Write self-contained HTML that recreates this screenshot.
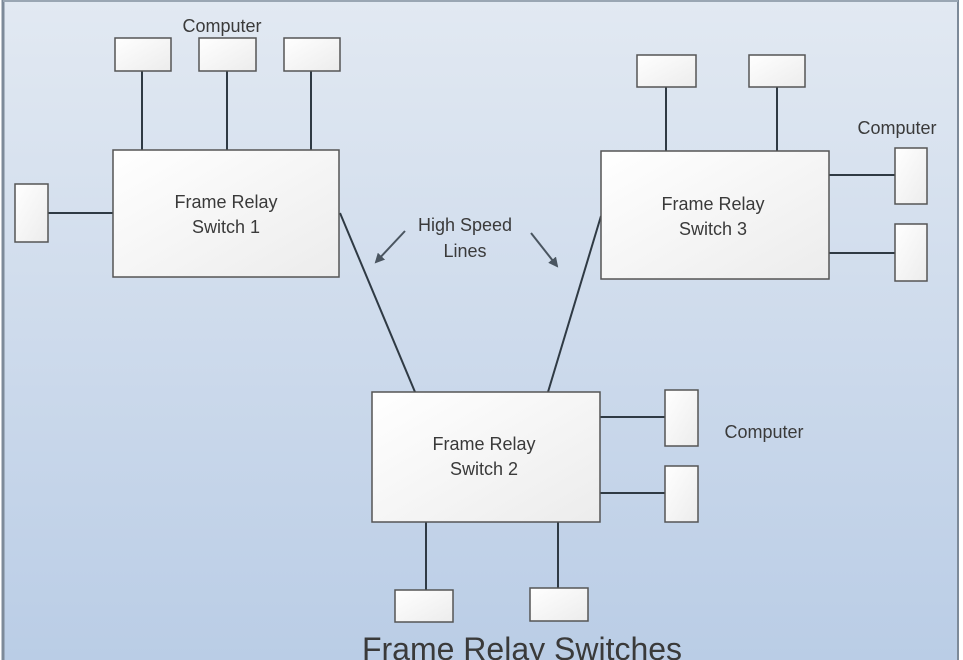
<!DOCTYPE html>
<html><head><style>
html,body{margin:0;padding:0;background:#fff;}
svg{display:block;}
text{font-family:"Liberation Sans",sans-serif;fill:#3a3a3a;}
</style></head><body>
<svg width="963" height="660" viewBox="0 0 963 660" xmlns="http://www.w3.org/2000/svg">
<defs>
<linearGradient id="bg" x1="0" y1="0" x2="0" y2="1">
<stop offset="0" stop-color="#e2e9f2"/>
<stop offset="1" stop-color="#bacde6"/>
</linearGradient>
<linearGradient id="bx" x1="0" y1="0" x2="1" y2="1">
<stop offset="0" stop-color="#ffffff"/>
<stop offset="1" stop-color="#ececec"/>
</linearGradient>
<marker id="ah" markerWidth="10" markerHeight="10" refX="8" refY="5" orient="auto" markerUnits="userSpaceOnUse">
<path d="M0,0 L10,5 L0,10 z" fill="#4a5560"/>
</marker>
</defs>
<rect x="0" y="0" width="963" height="660" fill="#fff"/>
<rect x="3" y="0" width="955" height="660" fill="url(#bg)"/>
<line x1="3" y1="0" x2="3" y2="660" stroke="#7d8a99" stroke-width="3"/>
<line x1="958" y1="0" x2="958" y2="660" stroke="#7d8a99" stroke-width="2"/>
<line x1="3" y1="1" x2="958" y2="1" stroke="#9aa6b3" stroke-width="2"/>
<g stroke="#2f3a44" stroke-width="2" fill="none">
<line x1="142" y1="71" x2="142" y2="150"/>
<line x1="227" y1="71" x2="227" y2="150"/>
<line x1="311" y1="71" x2="311" y2="150"/>
<line x1="48" y1="213" x2="113" y2="213"/>
<line x1="666" y1="87" x2="666" y2="151"/>
<line x1="777" y1="87" x2="777" y2="151"/>
<line x1="829" y1="175" x2="895" y2="175"/>
<line x1="829" y1="253" x2="895" y2="253"/>
<line x1="600" y1="417" x2="665" y2="417"/>
<line x1="600" y1="493" x2="665" y2="493"/>
<line x1="426" y1="522" x2="426" y2="590"/>
<line x1="558" y1="522" x2="558" y2="588"/>
<line x1="340" y1="213" x2="415" y2="392"/>
<line x1="601" y1="216" x2="548" y2="392"/>
</g>
<g stroke="#4a5560" stroke-width="2">
<line x1="405" y1="231" x2="376" y2="262" marker-end="url(#ah)"/>
<line x1="531" y1="233" x2="557" y2="266" marker-end="url(#ah)"/>
</g>
<g fill="url(#bx)" stroke="#555" stroke-width="1.5">
<rect x="113" y="150" width="226" height="127"/>
<rect x="601" y="151" width="228" height="128"/>
<rect x="372" y="392" width="228" height="130"/>
<rect x="115" y="38" width="56" height="33"/>
<rect x="199" y="38" width="57" height="33"/>
<rect x="284" y="38" width="56" height="33"/>
<rect x="15" y="184" width="33" height="58"/>
<rect x="637" y="55" width="59" height="32"/>
<rect x="749" y="55" width="56" height="32"/>
<rect x="895" y="148" width="32" height="56"/>
<rect x="895" y="224" width="32" height="57"/>
<rect x="665" y="390" width="33" height="56"/>
<rect x="665" y="466" width="33" height="56"/>
<rect x="395" y="590" width="58" height="32"/>
<rect x="530" y="588" width="58" height="33"/>
</g>
<g font-size="18" text-anchor="middle">
<text x="226" y="208">Frame Relay</text>
<text x="226" y="233">Switch 1</text>
<text x="713" y="210">Frame Relay</text>
<text x="713" y="235">Switch 3</text>
<text x="484" y="450">Frame Relay</text>
<text x="484" y="475">Switch 2</text>
<text x="465" y="231">High Speed</text>
<text x="465" y="257">Lines</text>
<text x="222" y="32">Computer</text>
<text x="897" y="134">Computer</text>
<text x="764" y="438">Computer</text>
</g>
<text x="522" y="660" font-size="32" text-anchor="middle" fill="#2a2a2a">Frame Relay Switches</text>
</svg>
</body></html>
